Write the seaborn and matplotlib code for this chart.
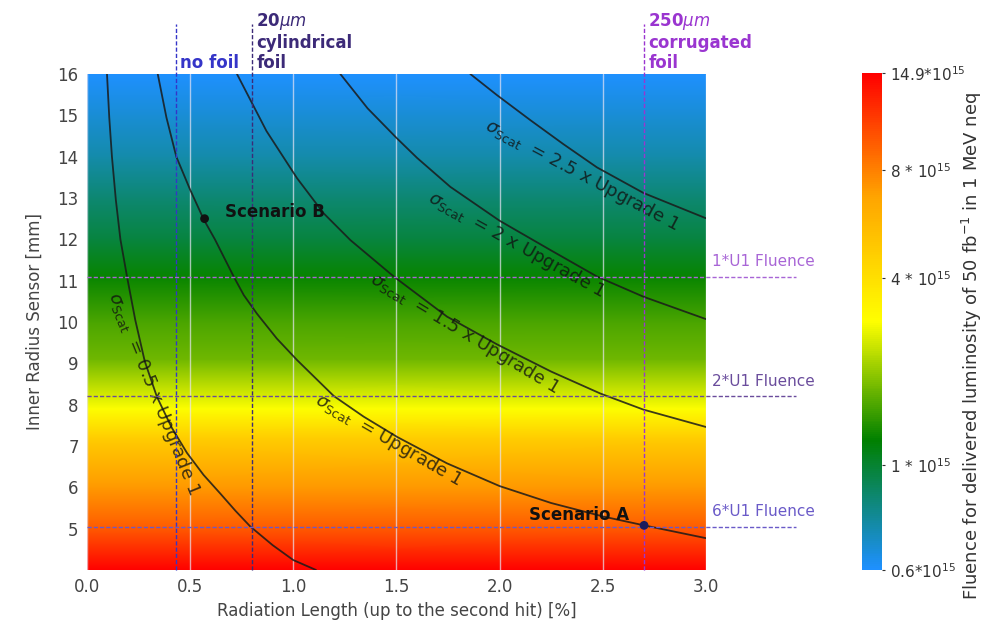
import numpy as np
import matplotlib
matplotlib.use("Agg")
import matplotlib.pyplot as plt
import matplotlib.colors as mcolors
import matplotlib.transforms as mtransforms
import matplotlib.cm as mcm
from matplotlib.ticker import FixedLocator
import seaborn as sns

# ---------------- data ----------------
# background fluence (10^15) at inner radius (mm)
radius_anchor = [4.0, 5.05, 6.0, 7.2, 7.9, 9.1, 10.0, 11.1, 12.0, 13.0, 14.0, 15.0, 16.0]
fluence_anchor = [14.9, 9.5, 7.1, 4.7, 2.9, 1.77, 1.55, 1.24, 0.97, 0.855, 0.74, 0.67, 0.6]

cbar_ticks = [0.6, 1.0, 4.0, 8.0, 14.9]
cbar_tick_pos = [0.0, 0.211, 0.587, 0.805, 1.0]
cbar_labels = ["0.6*10$^{15}$", "1 * 10$^{15}$", "4 * 10$^{15}$", "8 * 10$^{15}$", "14.9*10$^{15}$"]

# iso-scattering curves (x: radiation length %, r: radius mm)
curve_levels = ["0.5 x Upgrade 1", "Upgrade 1", "1.5 x Upgrade 1", "2 x Upgrade 1", "2.5 x Upgrade 1"]
curve_x = [
    [0.097, 0.108, 0.121, 0.14, 0.162, 0.194, 0.234, 0.28, 0.339, 0.41, 0.485, 0.565, 0.646, 0.72, 0.792, 0.9, 1.0, 1.11],
    [0.343, 0.385, 0.433, 0.5, 0.566, 0.62, 0.711, 0.76, 0.824, 0.92, 1.018, 1.196, 1.341, 1.503, 1.745, 2.0, 2.25, 2.505, 2.7, 3.0],
    [0.727, 0.87, 1.018, 1.147, 1.277, 1.487, 1.745, 1.987, 2.25, 2.488, 2.697, 3.0],
    [1.228, 1.36, 1.503, 1.60, 1.761, 2.0, 2.25, 2.472, 2.698, 3.0],
    [1.858, 1.987, 2.15, 2.31, 2.472, 2.698, 3.0],
]
curve_r = [
    [16.0, 14.95, 14.0, 12.95, 12.0, 11.1, 10.05, 9.05, 8.19, 7.45, 6.83, 6.3, 5.85, 5.43, 5.05, 4.6, 4.24, 4.0],
    [16.0, 14.95, 14.0, 13.2, 12.48, 12.0, 11.1, 10.65, 10.2, 9.6, 9.08, 8.21, 7.71, 7.22, 6.58, 6.03, 5.62, 5.29, 5.08, 4.77],
    [16.0, 14.62, 13.48, 12.63, 11.98, 11.1, 10.13, 9.46, 8.8, 8.27, 7.88, 7.46],
    [16.0, 15.17, 14.44, 13.97, 13.27, 12.45, 11.73, 11.1, 10.61, 10.07],
    [16.0, 15.49, 14.88, 14.3, 13.74, 13.12, 12.51],
]
label_x = [0.325, 1.459, 1.83, 2.084, 2.40]
label_r = [8.26, 7.14, 9.73, 11.86, 13.56]
label_rot = [-68, -30, -31, -29, -28]

# foil options
foil_x = [0.43, 0.8, 2.7]
foil_text = ["no foil", "20$\\mu m$\ncylindrical\nfoil", "250$\\mu m$\ncorrugated\nfoil"]
foil_color = ["#3535c8", "#3c2a78", "#9a35d0"]

# fluence levels
u1_r = [11.1, 8.2, 5.05]
u1_text = ["1*U1 Fluence", "2*U1 Fluence", "6*U1 Fluence"]
u1_color = ["#a865d6", "#6a4c9c", "#6a5ac8"]

# scenarios
scen_x = [0.57, 2.7]
scen_r = [12.5, 5.08]
scen_text = ["Scenario B", "Scenario A"]
scen_color = ["#111111", "#1c1c5c"]

x_ticks = [0.0, 0.5, 1.0, 1.5, 2.0, 2.5, 3.0]
y_ticks = [5, 6, 7, 8, 9, 10, 11, 12, 13, 14, 15, 16]

# ---------------- style ----------------
sns.set_style("whitegrid")
plt.rcParams["font.family"] = ["DejaVu Sans"]

fig = plt.figure(figsize=(9.85, 6.23), dpi=100)
ax = fig.add_axes([0.0883, 0.0851, 0.6284, 0.7961])
cax = fig.add_axes([0.8751, 0.0851, 0.0203, 0.7977])

cmap = mcolors.LinearSegmentedColormap.from_list(
    "fluence", [(0.0, "#1e90ff"), (0.26, "#008000"), (0.5, "#ffff00"),
                (0.75, "#ffa500"), (1.0, "#ff0000")])
log_ticks = np.log10(cbar_ticks)


def fwd(v):
    v = np.asarray(v, dtype=float)
    return np.interp(np.log10(np.clip(v, 1e-6, None)), log_ticks, cbar_tick_pos)


def inv(p):
    return 10 ** np.interp(np.asarray(p, dtype=float), cbar_tick_pos, log_ticks)


norm = mcolors.FuncNorm((fwd, inv), vmin=cbar_ticks[0], vmax=cbar_ticks[-1])

# background
R = np.array(radius_anchor)
F = np.array(fluence_anchor)
X = np.column_stack([np.full_like(R, x_ticks[0]), np.full_like(R, x_ticks[-1])])
Y = np.column_stack([R, R])
C = np.column_stack([F, F])
ax.pcolormesh(X, Y, C, shading="gouraud", cmap=cmap, norm=norm, zorder=0, rasterized=True)

# curves
for xs, rs in zip(curve_x, curve_r):
    sns.lineplot(x=xs, y=rs, sort=False, estimator=None, color="#1a1a1a",
                 linewidth=1.3, alpha=0.85, ax=ax, zorder=3)

for lev, lx, lr, rot in zip(curve_levels, label_x, label_r, label_rot):
    ax.text(lx, lr, "$\\sigma_{\\rm Scat}$  = " + lev, rotation=rot,
            rotation_mode="anchor", ha="center", va="center",
            fontsize=13, color="#111111", alpha=0.8, zorder=4)

# foil lines
trans_xv = mtransforms.blended_transform_factory(ax.transData, ax.transAxes)
for fx, ft, fc in zip(foil_x, foil_text, foil_color):
    ax.plot([fx, fx], [0, 1.1], transform=trans_xv, clip_on=False,
            color=fc, linestyle=(0, (3, 1.5)), linewidth=1.0, zorder=4)
    ax.text(fx + 0.02, 1.004, ft, transform=trans_xv, ha="left", va="bottom",
            fontsize=12, fontweight="bold", color=fc, linespacing=1.15)

# fluence lines
trans_hy = mtransforms.blended_transform_factory(ax.transAxes, ax.transData)
for ur, ut, uc in zip(u1_r, u1_text, u1_color):
    ax.plot([0, 1.145], [ur, ur], transform=trans_hy, clip_on=False,
            color=uc, linestyle=(0, (3, 1.5)), linewidth=1.0, zorder=4)
    ax.text(1.01, ur + 0.18, ut, transform=trans_hy, ha="left", va="bottom",
            fontsize=11, color=uc)

# scenarios
sns.scatterplot(x=scen_x, y=scen_r, hue=scen_text, palette=scen_color, s=40,
                edgecolor="none", legend=False, ax=ax, zorder=5)
ax.text(scen_x[0] + 0.1, scen_r[0] + 0.15, scen_text[0], ha="left", va="center",
        fontsize=12, fontweight="bold", color="#111111", zorder=6)
ax.text(scen_x[1] - 0.07, scen_r[1] + 0.25, scen_text[1], ha="right", va="center",
        fontsize=12, fontweight="bold", color="#111111", zorder=6)

# axes
ax.set_xlim(x_ticks[0], x_ticks[-1])
ax.set_ylim(4, 16)
ax.set_xticks(x_ticks)
ax.set_yticks(y_ticks)
ax.yaxis.set_minor_locator(FixedLocator([6, 8, 10, 12, 14]))
ax.grid(False)
ax.grid(True, axis="x", which="major", color="#e8e4f4", alpha=0.7, linewidth=1.0)
ax.grid(True, axis="y", which="minor", color="#e8e4f4", alpha=0.7, linewidth=1.0)
ax.set_axisbelow("line")
ax.tick_params(axis="both", which="both", length=0, labelsize=12, colors="#444444", pad=6)
for s in ax.spines.values():
    s.set_visible(False)
ax.set_xlabel("Radiation Length (up to the second hit) [%]", fontsize=12, color="#444444", labelpad=4)
ax.set_ylabel("Inner Radius Sensor [mm]", fontsize=12, color="#444444", labelpad=10)

# colorbar
sm = mcm.ScalarMappable(norm=norm, cmap=cmap)
cb = fig.colorbar(sm, cax=cax)
cb.set_ticks(cbar_ticks, labels=cbar_labels)
cb.minorticks_off()
cb.outline.set_visible(False)
cax.tick_params(length=2, labelsize=11, colors="#333333", pad=4)
fig.text(972 / 985, 0.037, "Fluence for delivered luminosity of 50 fb$^{-1}$ in 1 MeV neq",
         rotation=90, ha="center", va="bottom", fontsize=13, color="#333333")

fig.savefig("out.png", dpi=100)
